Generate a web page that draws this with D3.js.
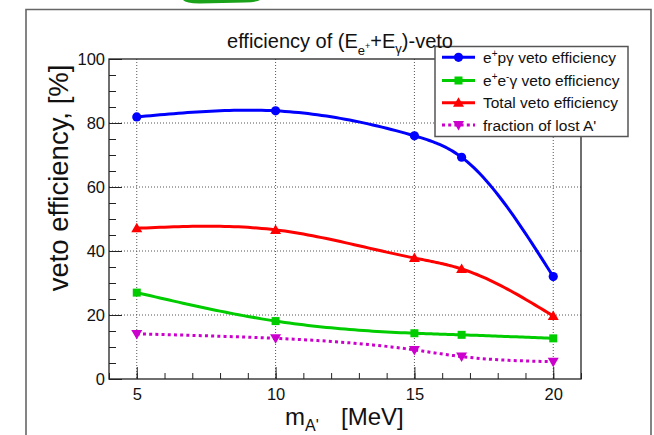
<!DOCTYPE html>
<html><head><meta charset="utf-8">
<script src="https://cdn.jsdelivr.net/npm/d3@7"></script>
<style>body{margin:0;background:#fff}svg{display:block;font-family:"Liberation Sans",Arial,sans-serif}</style>
</head><body><svg id="c" width="654" height="435"></svg>
<script>
const masses = [5, 10, 15, 16.7, 20];
const epgEff = [81.9, 83.8, 76.0, 69.3, 32.0];
const eegEff = [27.0, 18.1, 14.3, 13.8, 12.7];
const totalEff = [47.1, 46.6, 37.8, 34.4, 19.7];
const lostFrac = [14.1, 12.7, 9.1, 7.0, 5.4];
const xTicks = [5, 10, 15, 20];
const yTicks = [0, 20, 40, 60, 80, 100];
const legendLabels = ["e⁺pγ veto efficiency", "e⁺e⁻γ veto efficiency", "Total veto efficiency", "fraction of lost A'"];

const svg = d3.select("#c");
const L = 109, R = 581, T = 59, B = 379;
const x = d3.scaleLinear().domain([4, 21]).range([L, R]);
const y = d3.scaleLinear().domain([0, 100]).range([B, T]);

// natural cubic spline in x, used only to draw a smooth line through the points
function splinePath(xs, ys){
  const n = xs.length, h = [], a = [], l = [1], mu = [0], z = [0], c = new Array(n).fill(0), b = [], d = [];
  for(let i=0;i<n-1;i++) h[i] = xs[i+1]-xs[i];
  for(let i=1;i<n-1;i++) a[i] = 3/h[i]*(ys[i+1]-ys[i]) - 3/h[i-1]*(ys[i]-ys[i-1]);
  for(let i=1;i<n-1;i++){ l[i] = 2*(xs[i+1]-xs[i-1]) - h[i-1]*mu[i-1]; mu[i] = h[i]/l[i]; z[i] = (a[i]-h[i-1]*z[i-1])/l[i]; }
  for(let j=n-2;j>=0;j--){ c[j] = (j===0?0:z[j]) - mu[j]*c[j+1]; if(j===0) c[0]=0;
    b[j] = (ys[j+1]-ys[j])/h[j] - h[j]*(c[j+1]+2*c[j])/3; d[j] = (c[j+1]-c[j])/(3*h[j]); }
  const pts = [];
  for(let j=0;j<n-1;j++){
    const steps = 30;
    for(let k=0;k<=steps;k++){
      if(j>0 && k===0) continue;
      const t = h[j]*k/steps;
      pts.push([xs[j]+t, ys[j]+b[j]*t+c[j]*t*t+d[j]*t*t*t]);
    }
  }
  return pts;
}

// outer frame and decoration
svg.append("path").attr("d","M183,0 Q186,3.5 200,3.4 L245,2.6 Q257,2 260,0 Z").attr("fill","#1aa31a");
svg.append("path").attr("d","M26,440 L26,9.5 L651,9.5 L651,440").attr("fill","none").attr("stroke","#666").attr("stroke-width",1.6);

// grid
const g = svg.append("g");
xTicks.forEach(t => g.append("line").attr("x1",x(t)).attr("x2",x(t)).attr("y1",T).attr("y2",B)
  .attr("stroke","#555").attr("stroke-width",1).attr("stroke-dasharray","1,2"));
yTicks.filter(t=>t>0&&t<100).forEach(t => g.append("line").attr("x1",L).attr("x2",R).attr("y1",y(t)).attr("y2",y(t))
  .attr("stroke","#555").attr("stroke-width",1).attr("stroke-dasharray","1,2"));

// axes with inside ticks
const xMinor = d3.range(4, 22, 1);
const yMinor = d3.range(0, 101, 5);
const xAxis = d3.axisBottom(x).tickValues(xMinor).tickSizeInner(-6).tickSizeOuter(0).tickFormat("");
svg.append("g").attr("transform",`translate(0,${B})`).call(xAxis)
  .call(s=>{s.select(".domain").remove();s.selectAll("line").attr("stroke","#222");});
const xAxisMaj = d3.axisBottom(x).tickValues(xTicks).tickSizeInner(-12).tickSizeOuter(0);
svg.append("g").attr("transform",`translate(0,${B})`).call(xAxisMaj)
  .call(s=>{s.select(".domain").remove();s.selectAll("line").attr("stroke","#222");
    s.selectAll("text").attr("font-size","16.5px").attr("fill","#111").attr("dy","0").attr("y",21);});
const yAxis = d3.axisLeft(y).tickValues(yMinor).tickSizeInner(-7).tickSizeOuter(0).tickFormat("");
svg.append("g").attr("transform",`translate(${L},0)`).call(yAxis)
  .call(s=>{s.select(".domain").remove();s.selectAll("line").attr("stroke","#222");});
const yAxisMaj = d3.axisLeft(y).tickValues(yTicks).tickSizeInner(-13).tickSizeOuter(0);
svg.append("g").attr("transform",`translate(${L},0)`).call(yAxisMaj)
  .call(s=>{s.select(".domain").remove();s.selectAll("line").attr("stroke","#222");
    s.selectAll("text").attr("font-size","16.5px").attr("fill","#111").attr("x",-4).attr("dy","0.36em");});

// frame
svg.append("rect").attr("x",L).attr("y",T).attr("width",R-L).attr("height",B-T)
  .attr("fill","none").attr("stroke","#222").attr("stroke-width",1.3);

// series
const series = [
  {vals: epgEff, color:"#0000ff", marker:"circle", dash:null},
  {vals: eegEff, color:"#00cc00", marker:"square", dash:null},
  {vals: totalEff, color:"#ff0000", marker:"tri", dash:null},
  {vals: lostFrac, color:"#cc00cc", marker:"tridown", dash:"3,3.2"}
];
const line = d3.line().x(d=>x(d[0])).y(d=>y(d[1]));
function marker(sel, type, cx, cy, color){
  if(type==="circle") sel.append("circle").attr("cx",cx).attr("cy",cy).attr("r",4.6).attr("fill",color);
  else if(type==="square") sel.append("rect").attr("x",cx-4).attr("y",cy-4).attr("width",8).attr("height",8).attr("fill",color);
  else if(type==="tri") sel.append("path").attr("d",`M${cx},${cy-5.5} L${cx+5.5},${cy+4} L${cx-5.5},${cy+4} Z`).attr("fill",color);
  else sel.append("path").attr("d",`M${cx},${cy+5.5} L${cx+5.5},${cy-4} L${cx-5.5},${cy-4} Z`).attr("fill",color);
}
series.forEach(s=>{
  const smooth = splinePath(masses, s.vals);
  const p = svg.append("path").attr("d",line(smooth)).attr("fill","none").attr("stroke",s.color).attr("stroke-width",3);
  if(s.dash) p.attr("stroke-dasharray",s.dash);
  masses.forEach((m,i)=>marker(svg, s.marker, x(m), y(s.vals[i]), s.color));
});

// legend
const lg = svg.append("g");
lg.append("rect").attr("x",435).attr("y",46.5).attr("width",193).attr("height",90)
  .attr("fill","#fff").attr("stroke","#555").attr("stroke-width",1.5);
const rowY = [57.3, 80.5, 102.7, 125];
series.forEach((s,i)=>{
  const ly = rowY[i];
  const ln = lg.append("line").attr("x1",442).attr("x2",475).attr("y1",ly).attr("y2",ly).attr("stroke",s.color).attr("stroke-width",3);
  if(s.dash) ln.attr("stroke-dasharray",s.dash);
  marker(lg, s.marker, 458.5, ly, s.color);
});
const lt = lg.selectAll("text.lt").data(legendLabels).enter().append("text")
  .attr("x",483).attr("y",(d,i)=>rowY[i]+5.5).attr("font-size","15.5px").attr("fill","#111");
lt.each(function(d){
  const t = d3.select(this);
  if(d.startsWith("e⁺pγ")){
    t.append("tspan").text("e");
    t.append("tspan").text("+").attr("font-size","10px").attr("dy","-6");
    t.append("tspan").text("pγ veto efficiency").attr("dy","6");
  } else if(d.startsWith("e⁺e⁻γ")){
    t.append("tspan").text("e");
    t.append("tspan").text("+").attr("font-size","10px").attr("dy","-6");
    t.append("tspan").text("e").attr("dy","6");
    t.append("tspan").text("-").attr("font-size","10px").attr("dy","-6");
    t.append("tspan").text("γ veto efficiency").attr("dy","6");
  } else t.text(d);
});

// title
const title = svg.append("text").attr("x",340).attr("y",47.5).attr("text-anchor","middle").attr("font-size","20px").attr("fill","#111");
title.append("tspan").text("efficiency of (E");
title.append("tspan").text("e").attr("font-size","13px").attr("dy","7");
title.append("tspan").text("+").attr("font-size","9px").attr("dy","-6");
title.append("tspan").text("+E").attr("dy","-1");
title.append("tspan").text("γ").attr("font-size","13px").attr("dy","5");
title.append("tspan").text(")-veto").attr("dy","-5");

// axis titles
svg.append("text").attr("transform","translate(68,178) rotate(-90)").attr("text-anchor","middle")
  .attr("font-size","27.5px").attr("fill","#111").text("veto efficiency, [%]");
const xt = svg.append("text").attr("x",285).attr("y",425).attr("font-size","24px").attr("fill","#111");
xt.append("tspan").text("m");
xt.append("tspan").text("A'").attr("font-size","16px").attr("dy","6");
xt.append("tspan").text("[MeV]").attr("dy","-6").attr("x",341);
</script></body></html>
